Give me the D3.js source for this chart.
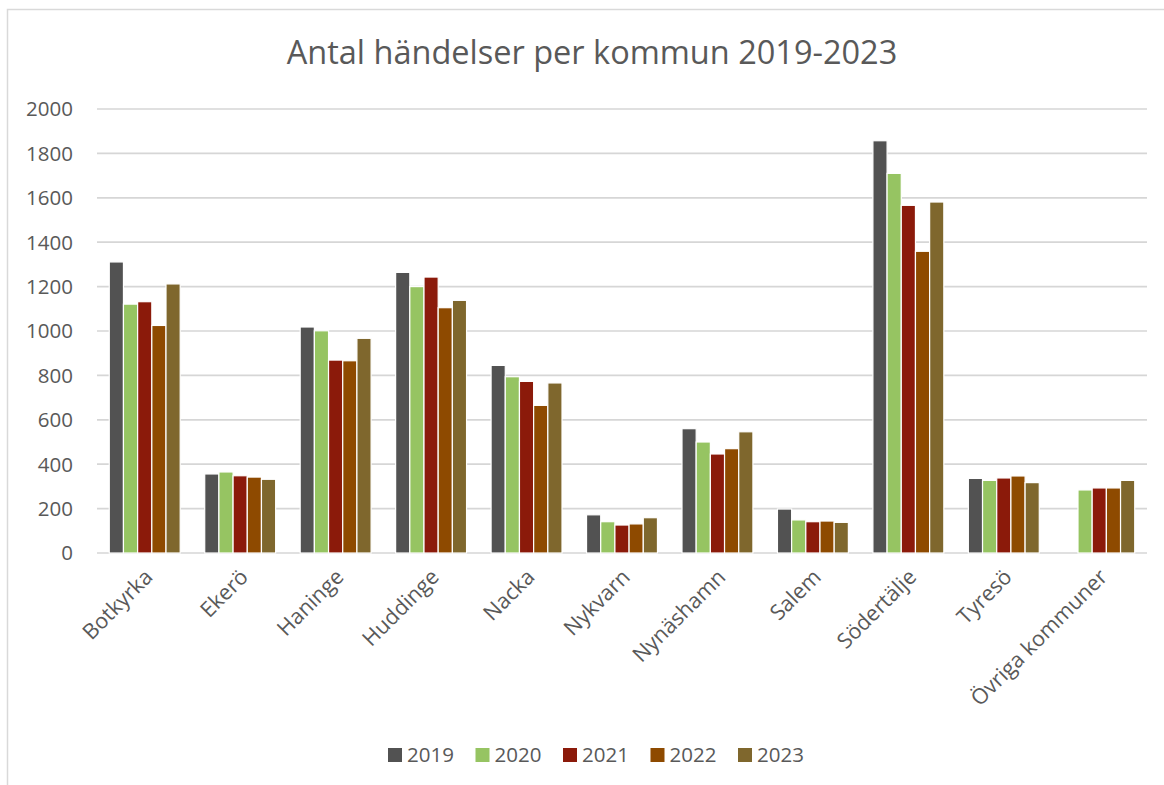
<!DOCTYPE html>
<html lang="sv">
<head>
<meta charset="UTF-8">
<title>Antal händelser per kommun</title>
<script src="https://d3js.org/d3.v7.min.js"></script>
<style>
body { margin: 0; background: #fff; }
svg { display: block; }
text { font-family: "Open Sans", sans-serif; fill: #595959; }
</style>
</head>
<body>
<script>
const kommuner = ["Botkyrka", "Ekerö", "Haninge", "Huddinge", "Nacka", "Nykvarn",
    "Nynäshamn", "Salem", "Södertälje", "Tyresö", "Övriga kommuner"]
const years = ["2019", "2020", "2021", "2022", "2023"]
const v2019 = [1311, 356, 1018, 1264, 845, 172, 560, 198, 1857, 336, null]
const v2020 = [1121, 365, 1001, 1200, 794, 141, 500, 149, 1710, 327, 284]
const v2021 = [1132, 348, 869, 1243, 773, 126, 446, 141, 1566, 338, 293]
const v2022 = [1025, 342, 866, 1105, 665, 131, 470, 144, 1359, 347, 293]
const v2023 = [1212, 332, 967, 1138, 766, 159, 546, 138, 1581, 317, 327]
const yTicks = [0, 200, 400, 600, 800, 1000, 1200, 1400, 1600, 1800, 2000]
const colors = ["#525252", "#96c462", "#8b1a0a", "#8e4a00", "#7f672d"]

const series = [v2019, v2020, v2021, v2022, v2023]
const width = 1164, height = 785

const svg = d3.select("body").append("svg")
    .attr("width", width).attr("height", height)

// chart frame (runs off the right / bottom edge like the screenshot)
svg.append("rect")
    .attr("x", 7.5).attr("y", 9.5)
    .attr("width", 1300).attr("height", 900)
    .attr("fill", "#fff")
    .attr("stroke", "#d9d9d9").attr("stroke-width", 1.5)

svg.append("text")
    .attr("x", 592).attr("y", 64)
    .attr("text-anchor", "middle")
    .style("font-size", "32.5px")
    .text("Antal händelser per kommun 2019-2023")

const x = d3.scaleBand().domain(kommuner).range([97, 1147])
    .paddingInner(0.257).paddingOuter(0.1285)
const xs = d3.scaleBand().domain(years).range([0, x.bandwidth()])
const y = d3.scaleLinear().domain([0, 2000]).range([553, 109])

// gridlines
svg.append("g")
    .selectAll("line")
    .data(yTicks)
    .join("line")
    .attr("x1", 97).attr("x2", 1147)
    .attr("y1", d => y(d)).attr("y2", d => y(d))
    .attr("stroke", "#d6d6d6").attr("stroke-width", 1.7)

svg.append("g")
    .selectAll("text")
    .data(yTicks)
    .join("text")
    .attr("x", 73).attr("y", d => y(d))
    .attr("dy", "0.36em")
    .attr("text-anchor", "end")
    .style("font-size", "20.5px")
    .text(d => d)

// bars
const groups = svg.append("g")
    .selectAll("g")
    .data(series)
    .join("g")
    .attr("fill", (d, i) => colors[i])

groups.selectAll("rect")
    .data((vals, si) => vals.map((v, ci) => ({ v: v, k: kommuner[ci], yr: years[si] }))
        .filter(d => d.v !== null))
    .join("rect")
    .attr("x", d => x(d.k) + xs(d.yr))
    .attr("width", xs.bandwidth())
    .attr("y", d => y(d.v))
    .attr("height", d => y(0) - y(d.v))
    .attr("stroke", "#fff").attr("stroke-width", 1.2)

// x labels
svg.append("g")
    .selectAll("text")
    .data(kommuner)
    .join("text")
    .attr("transform", d => `translate(${x(d) + x.bandwidth() / 2 + 4},${573}) rotate(-45)`)
    .attr("text-anchor", "end")
    .attr("dy", "0.35em")
    .style("font-size", "21.5px")
    .text(d => d)

// legend
const legend = svg.append("g")
    .selectAll("g")
    .data(years)
    .join("g")
    .attr("transform", (d, i) => `translate(${388 + i * 87.5},748)`)
legend.append("rect")
    .attr("width", 14).attr("height", 14)
    .attr("fill", (d, i) => colors[i])
legend.append("text")
    .attr("x", 19).attr("y", 7).attr("dy", "0.36em")
    .style("font-size", "20.5px")
    .text(d => d)
</script>
</body>
</html>
